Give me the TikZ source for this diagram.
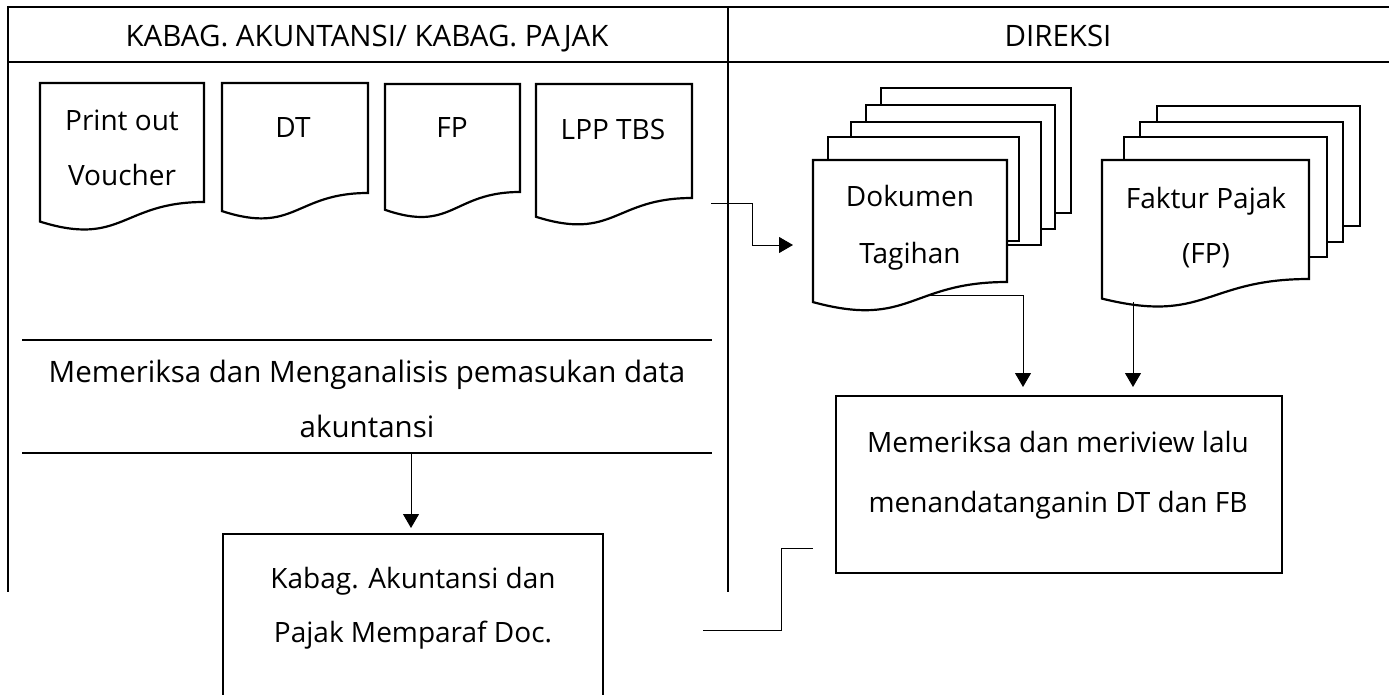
\documentclass[tikz,border=0pt]{standalone}
\usepackage{fontspec}
\setmainfont{Open Sans}
\usetikzlibrary{arrows.meta}
\begin{document}
\begin{tikzpicture}[x=1pt,y=-1pt,
  frame/.style={line width=2.4pt},
  shapeline/.style={line width=2.2pt, fill=white, line join=miter},
  conn/.style={line width=1pt},
  arr/.style={conn, -{Triangle[width=16pt,length=14pt]}},
  txt/.style={font=\fontsize{28}{32}\selectfont, inner sep=0pt, anchor=base},
  bigtxt/.style={txt, font=\fontsize{29.5}{34}\selectfont},
]
\clip (0,0) rectangle (1389,695);
\fill[white] (0,0) rectangle (1389,695);
% table frame
\draw[frame] (8,7) -- (1389,7);
\draw[frame] (8,62) -- (1389,62);
\draw[frame] (8,5.8) -- (8,592);
\draw[frame] (728,7) -- (728,592);
\draw[frame] (22,340) -- (712,340);
\draw[frame] (22,453) -- (712,453);
% headers
\node[bigtxt] (hleft) at (367,47) {KABAG. AKUNTANSI/ KABAG. PAJAK};
\node[bigtxt] (hright) at (1058,47) {DIREKSI};
% documents left
\draw[shapeline] (40,83) -- (204,83) -- (204,202) .. controls (122,202) and (122,247.3) .. (40,221.6) -- cycle;
\draw[shapeline] (222,83) -- (368,83) -- (368,193) .. controls (295,193) and (295,234.9) .. (222,211.1) -- cycle;
\draw[shapeline] (385,84) -- (520,84) -- (520,192) .. controls (452.5,192) and (452.5,233.2) .. (385,209.8) -- cycle;
\draw[shapeline] (536,84) -- (692,84) -- (692,198) .. controls (614,198) and (614,241.4) .. (536,216.8) -- cycle;
\node[txt] (d1a) at (122,131) {Print out};
\node[txt] (d1b) at (122,186) {Voucher};
\node[txt] (d2) at (293,138) {DT};
\node[txt] (d3) at (452,138) {FP};
\node[txt] (d4) at (613,140) {LPP TBS};
% process text left
\node[bigtxt] (p1a) at (367,382) {Memeriksa dan Menganalisis pemasukan data};
\node[bigtxt] (p1b) at (367,437) {akuntansi};
% Dokumen Tagihan stack
\draw[shapeline] (881,88) rectangle (1071,213);
\draw[shapeline] (866,105) rectangle (1055,229);
\draw[shapeline] (851,122) rectangle (1041,245);
\draw[shapeline] (828,137) rectangle (1019,241);
\draw[shapeline] (813,160) -- (1007,160) -- (1007,282) .. controls (910,282) and (910,328.5) .. (813,302.1) -- cycle;
\node[txt] (dta) at (910,207) {Dokumen};
\node[txt] (dtb) at (910,263) {Tagihan};
% Faktur Pajak stack
\draw[shapeline] (1157,106) rectangle (1360,226);
\draw[shapeline] (1140,122) rectangle (1343,242);
\draw[shapeline] (1124,137) rectangle (1327,257);
\draw[shapeline] (1102,160) -- (1309,160) -- (1309,279) .. controls (1205.5,279) and (1205.5,324.3) .. (1102,298.6) -- cycle;
\node[txt] (fpa) at (1206,209) {Faktur Pajak};
\node[txt] (fpb) at (1206,263) {(FP)};
% process boxes
\draw[shapeline] (836,396) rectangle (1282,573);
\node[txt] (r1) at (1058,452) {Memeriksa dan meriview lalu};
\node[txt] (r2) at (1058,512) {menandatanganin DT dan FB};
\draw[shapeline] (223,534) rectangle (603,740);
\node[txt] (k1) at (413,588) {Kabag. Akuntansi dan};
\node[txt] (k2) at (413,642) {Pajak Memparaf Doc.};
% connectors
\coordinate (lppout) at (711,204);
\coordinate (dokin) at (793,245);
\draw[arr] (lppout) -- (752,204) |- (dokin);
\coordinate (dokout) at (927,295);
\coordinate (revin1) at (1023,387);
\draw[arr] (dokout) -| (revin1);
\coordinate (fpout) at (1133,302);
\coordinate (revin2) at (1133,387);
\draw[arr] (fpout) -- (revin2);
\coordinate (anaout) at (411,453);
\coordinate (kabin) at (411,528);
\draw[arr] (anaout) -- (kabin);
\coordinate (kabout) at (703,630);
\coordinate (revin3) at (813,548);
\draw[conn] (kabout) -- (781,630) |- (revin3);
\end{tikzpicture}
\end{document}
